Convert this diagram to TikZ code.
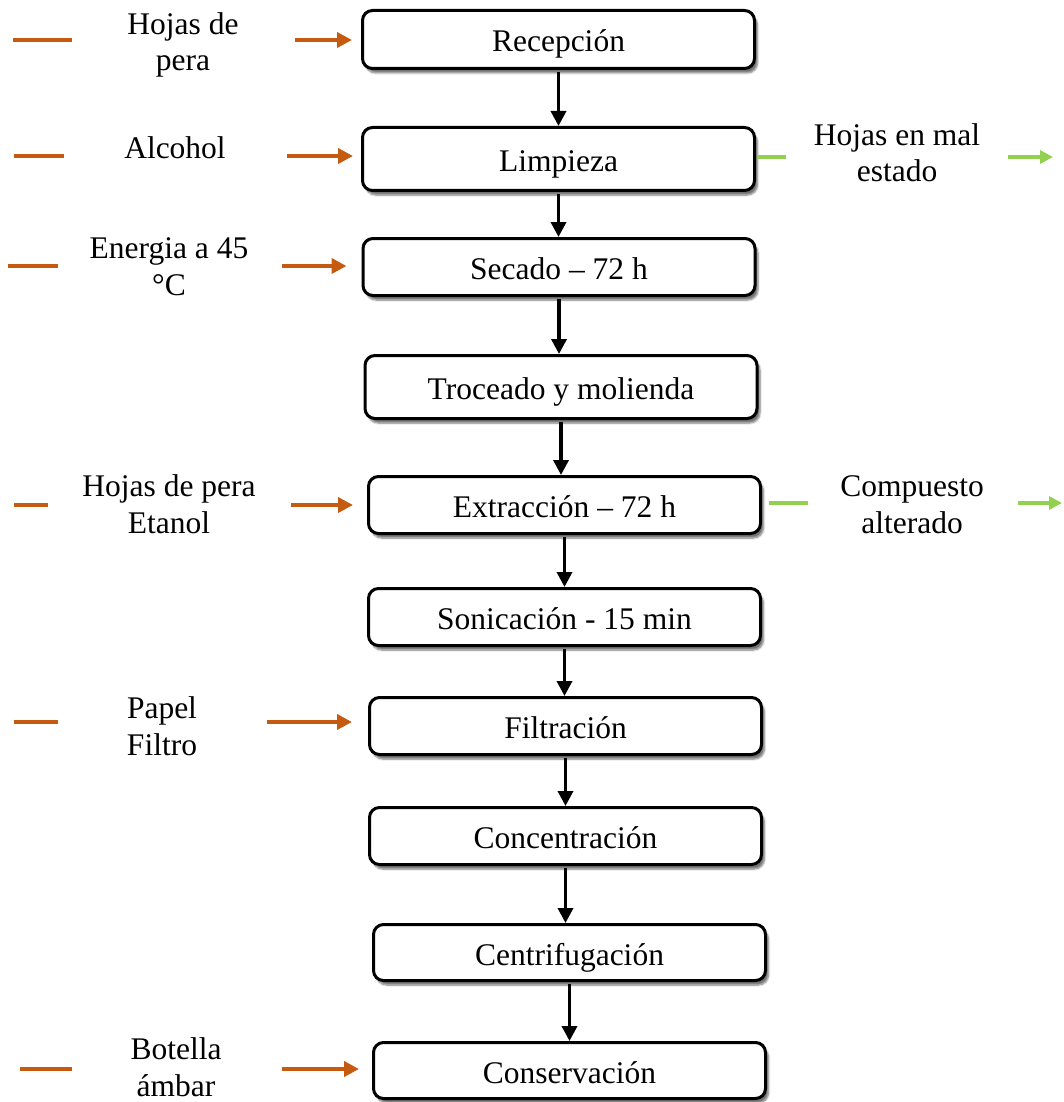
\documentclass[tikz,border=0pt]{standalone}
\usepackage{fontspec}
\setmainfont{Liberation Serif}
\usetikzlibrary{arrows.meta,shadows.blur}
\definecolor{inorange}{HTML}{C55A11}
\definecolor{outgreen}{HTML}{92D050}
\begin{document}
\begin{tikzpicture}[x=1pt,y=-1pt,
  txt/.style={font=\fontsize{31.5}{36.5}\selectfont},
  box/.style={txt, draw=black, line width=3pt, rounded corners=10pt, fill=white,
    blur shadow={shadow xshift=3pt, shadow yshift=-4.5pt, shadow blur steps=6, shadow opacity=55},
    minimum width=392pt, minimum height=57pt, inner sep=0pt, text height=25pt, text depth=0pt},
  lbl/.style={txt, align=center, inner sep=0pt, anchor=base},
  flow/.style={line width=3.5pt, -{Triangle[length=15pt,width=15pt]}, shorten <=2pt},
  indash/.style={draw=inorange, line width=4pt},
  inarrow/.style={draw=inorange, line width=4pt, -{Triangle[length=15pt,width=15pt]}},
  outdash/.style={draw=outgreen, line width=3.6pt},
  outarrow/.style={draw=outgreen, line width=3.6pt, -{Triangle[length=13pt,width=13pt]}},
]
\useasboundingbox (0,0) rectangle (1063,1102);

% process boxes
\node[box, minimum height=58pt] (rec)  at (558.5,39.5)  {Recepción};
\node[box, minimum height=63pt] (lim)  at (558.5,159)   {Limpieza};
\node[box] (sec)  at (559,267)    {Secado – 72 h};
\node[box, minimum height=63pt] (tro)  at (561,387)     {Troceado y molienda};
\node[box] (ext)  at (564.5,505)  {Extracción – 72 h};
\node[box] (son)  at (564.5,617)  {Sonicación - 15 min};
\node[box] (fil)  at (565.5,726)  {Filtración};
\node[box] (con)  at (565.5,836)  {Concentración};
\node[box, minimum height=56pt] (cen)  at (569.5,952.5) {Centrifugación};
\node[box, minimum height=56pt] (cons) at (569.5,1070.5) {Conservación};

% main flow
\draw[flow] (rec.south) -- (rec.south |- lim.north);
\draw[flow] (lim.south) -- (lim.south |- sec.north);
\draw[flow] (sec.south) -- (sec.south |- tro.north);
\draw[flow] (tro.south) -- (tro.south |- ext.north);
\draw[flow] (ext.south) -- (ext.south |- son.north);
\draw[flow] (son.south) -- (son.south |- fil.north);
\draw[flow] (fil.south) -- (fil.south |- con.north);
\draw[flow] (con.south) -- (con.south |- cen.north);
\draw[flow] (cen.south) -- (cen.south |- cons.north);

% inputs (left)
\coordinate (d1a) at (13,40);   \coordinate (d1b) at (72,40);   \coordinate (a1) at (295,40);
\coordinate (d2a) at (14,156);  \coordinate (d2b) at (64,156);  \coordinate (a2) at (287,156);
\coordinate (d3a) at (8,266);   \coordinate (d3b) at (58,266);  \coordinate (a3) at (282,266);
\coordinate (d4a) at (14,505);  \coordinate (d4b) at (48,505);  \coordinate (a4) at (291,505);
\coordinate (d5a) at (14,722);  \coordinate (d5b) at (58,722);  \coordinate (a5) at (267,722);
\coordinate (d6a) at (20,1069); \coordinate (d6b) at (72,1069); \coordinate (a6) at (282,1069);

\node[lbl] (l1) at (183,71)   {Hojas de\\pera};
\node[lbl] (l2) at (175,159)  {Alcohol};
\node[lbl] (l3) at (169,295)  {Energia a 45\\°C};
\node[lbl] (l4) at (169,533)  {Hojas de pera\\Etanol};
\node[lbl] (l5) at (162,755)  {Papel\\Filtro};
\node[lbl] (l6) at (176,1096) {Botella\\ámbar};

\draw[indash] (d1a) -- (d1b);
\draw[indash] (d2a) -- (d2b);
\draw[indash] (d3a) -- (d3b);
\draw[indash] (d4a) -- (d4b);
\draw[indash] (d5a) -- (d5b);
\draw[indash] (d6a) -- (d6b);

\draw[inarrow, shorten >=9pt]  (a1) -- (a1 -| rec.west);
\draw[inarrow, shorten >=8pt]  (a2) -- (a2 -| lim.west);
\draw[inarrow, shorten >=15pt] (a3) -- (a3 -| sec.west);
\draw[inarrow, shorten >=14pt] (a4) -- (a4 -| ext.west);
\draw[inarrow, shorten >=16pt] (a5) -- (a5 -| fil.west);
\draw[inarrow, shorten >=13pt] (a6) -- (a6 -| cons.west);

% outputs (right)
\coordinate (o1a) at (758,157); \coordinate (o1b) at (786,157);
\coordinate (o1c) at (1008,157); \coordinate (o1d) at (1053,157);
\coordinate (o2a) at (769,503); \coordinate (o2b) at (808,503);
\coordinate (o2c) at (1018,503); \coordinate (o2d) at (1062,503);

\node[lbl] (r1) at (897,182) {Hojas en mal\\estado};
\node[lbl] (r2) at (912,533) {Compuesto\\alterado};

\draw[outdash] (o1a) -- (o1b);
\draw[outarrow] (o1c) -- (o1d);
\draw[outdash] (o2a) -- (o2b);
\draw[outarrow] (o2c) -- (o2d);
\end{tikzpicture}
\end{document}
